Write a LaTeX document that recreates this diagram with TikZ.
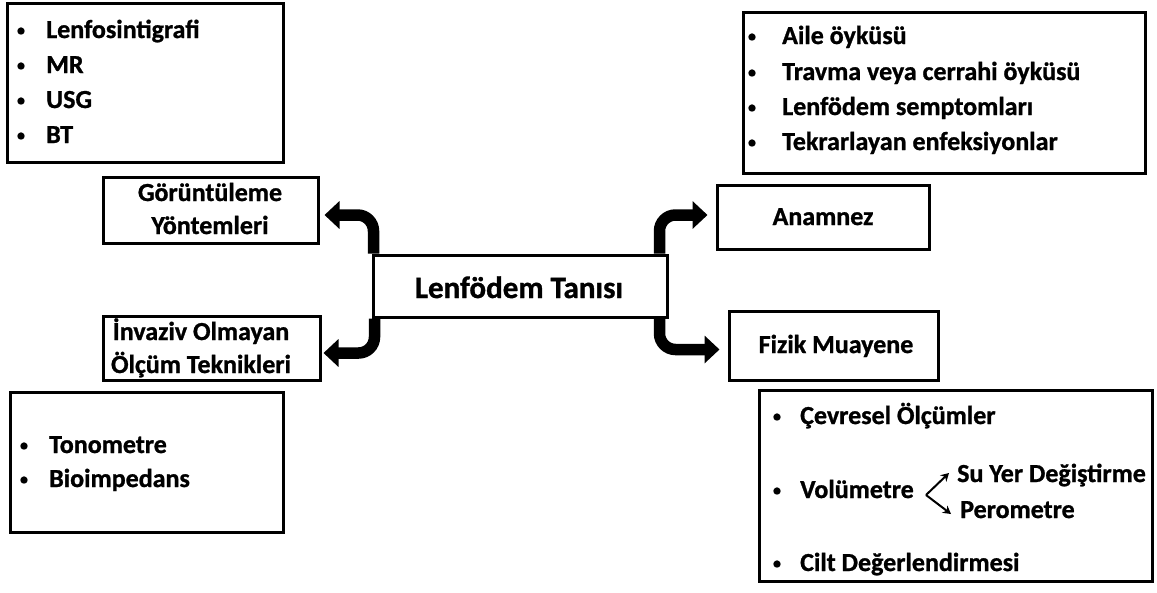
\documentclass[tikz,border=0pt]{standalone}
\usepackage{fontspec}
\setmainfont{Carlito}[BoldFeatures={FakeBold=1}]
\usetikzlibrary{arrows.meta,calc,fit}
\newcommand{\mybul}{\raisebox{2.5pt}{\fontsize{16}{16}\selectfont\textbullet}}
\begin{document}
\begin{tikzpicture}[x=1pt,y=-1pt,
  box/.style={draw=black, line width=3pt, inner sep=0pt},
  txt/.style={font=\fontsize{26}{33}\selectfont\bfseries, inner sep=0pt, anchor=base west},
  ctxt/.style={font=\fontsize{26}{33}\selectfont\bfseries, inner sep=0pt, anchor=base},
  bul/.style={font=\fontsize{26}{33}\selectfont\bfseries, inner sep=0pt, anchor=base},
  bigarrow/.style={line width=11.5pt, rounded corners=16pt, -{Triangle[width=27pt,length=15pt]}},
  smallarrow/.style={line width=2pt, -{Stealth[width=9pt,length=8pt]}}
]
\useasboundingbox (0,0) rectangle (1157,592);
\fill[white] (0,0) rectangle (1157,592);

% boxes
\node[box, fit={(7,3)(283,162)}] (imgbox) {};
\node[box, fit={(743,12)(1145,173)}] (histbox) {};
\node[box, fit={(103,177)(318,243)}] (gor) {};
\node[box, fit={(103,316)(320,380)}] (inv) {};
\node[box, fit={(373,255)(667,317)}] (ctr) {};
\node[box, fit={(717,185)(929,249)}] (anam) {};
\node[box, fit={(729,311)(938,380)}] (fiz) {};
\node[box, fit={(10,392)(283,532)}] (measbox) {};
\node[box, fit={(759,390)(1152,581)}] (exambox) {};

% central and heading texts
\node[inner sep=0pt, anchor=base, font=\fontsize{31}{36}\selectfont\bfseries] (ctrt) at (519,298) {Lenfödem Tanısı};
\node[ctxt] (gort1) at (210,201) {Görüntüleme};
\node[ctxt] (gort2) at (210,234) {Yöntemleri};
\node[ctxt] (invt1) at (201,340) {İnvaziv Olmayan};
\node[ctxt] (invt2) at (201,373) {Ölçüm Teknikleri};
\node[ctxt] (anamt) at (823,225) {Anamnez};
\node[ctxt] (fizt) at (836,353) {Fizik Muayene};

% lists
\foreach \t/\yy [count=\i] in {Lenfosintigrafi/38, MR/73, USG/108, BT/143} {
  \node[bul] (imgb\i) at (21,\yy) {\mybul};
  \node[txt] (imgt\i) at (46,\yy) {\t};
}
\foreach \t/\yy [count=\i] in {Aile öyküsü/44, Travma veya cerrahi öyküsü/80, Lenfödem semptomları/115, Tekrarlayan enfeksiyonlar/150} {
  \node[bul] (histb\i) at (752,\yy) {\mybul};
  \node[txt] (histt\i) at (782,\yy) {\t};
}
\foreach \t/\yy [count=\i] in {Tonometre/453, Bioimpedans/487} {
  \node[bul] (measb\i) at (24,\yy) {\mybul};
  \node[txt] (meast\i) at (49,\yy) {\t};
}
\foreach \t/\yy [count=\i] in {Çevresel Ölçümler/424, Volümetre/498, Cilt Değerlendirmesi/571} {
  \node[bul] (examb\i) at (777,\yy) {\mybul};
  \node[txt] (examt\i) at (800,\yy) {\t};
}
\node[txt] (su) at (957,482) {Su Yer Değiştirme};
\node[txt] (pero) at (960,518) {Perometre};
\coordinate (fork) at (926,495);
\draw[smallarrow] (fork) -- ($(su.base west)+(-8,-9)$);
\draw[smallarrow] (fork) -- ($(pero.base west)+(-9,-4)$);

% big arrows
\draw[bigarrow] ($(ctr.north west)+(2,0)$) |- ($(gor.east)+(5,5)$);
\draw[bigarrow] ($(ctr.south west)+(3,0)$) |- ($(inv.east)+(2,5)$);
\draw[bigarrow] ($(ctr.north east)+(-9,0)$) |- ($(anam.west)+(-8,-2)$);
\draw[bigarrow] ($(ctr.south east)+(-9,0)$) |- ($(fiz.west)+(-8,4)$);
\end{tikzpicture}
\end{document}
